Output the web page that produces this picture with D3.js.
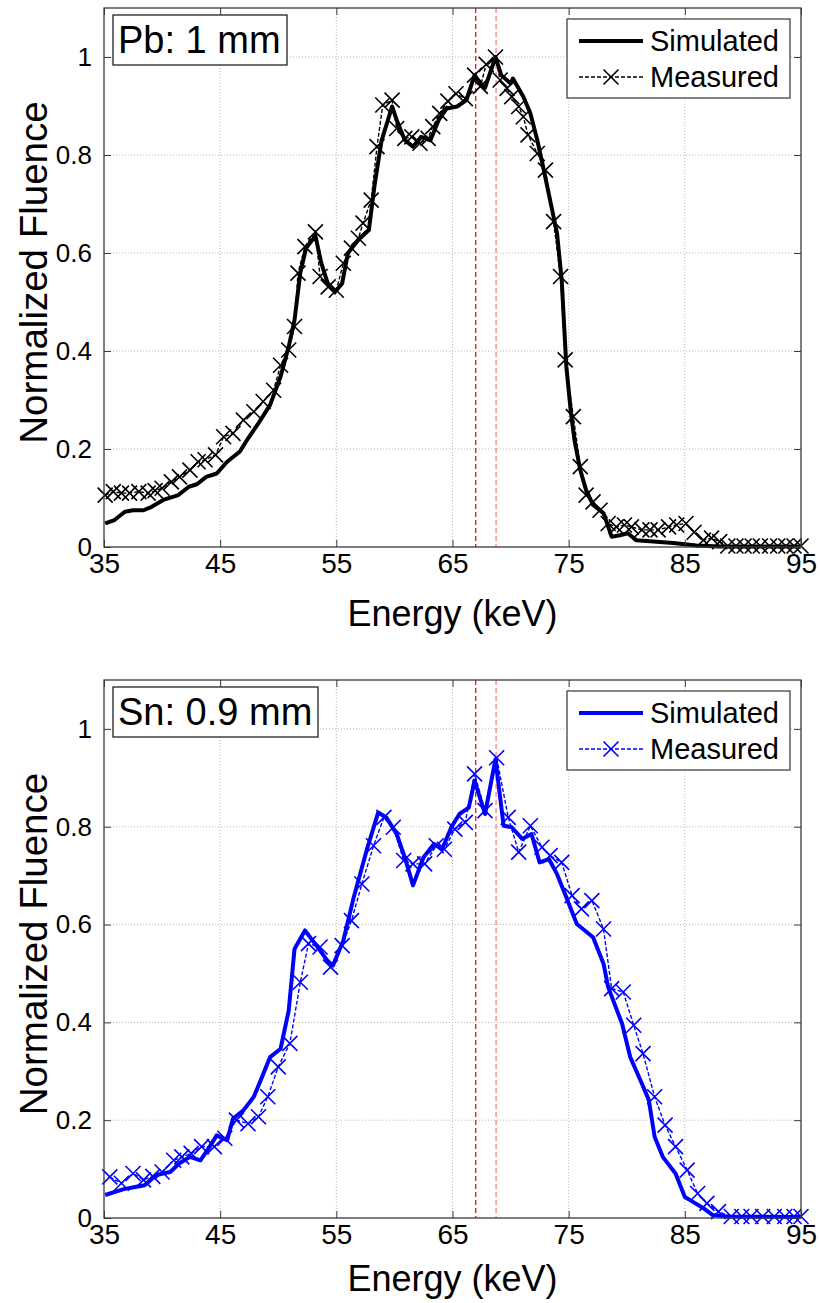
<!DOCTYPE html>
<html>
<head>
<meta charset="utf-8">
<script src="https://cdn.jsdelivr.net/npm/d3@7"></script>
<style>
body { margin: 0; background: #fff; }
svg text { font-family: "Liberation Sans", Arial, Helvetica, sans-serif; fill: #000; }
</style>
</head>
<body>
<div id="chart"></div>
<script>
// x ticks / y ticks
const energyTicks = [35, 45, 55, 65, 75, 85, 95];
const fluenceTicks = [0, 0.2, 0.4, 0.6, 0.8, 1];
const markerLines = [67.0, 68.75];

// Pb: 1 mm, simulated
const pbSimE = [35.1, 35.9, 36.8, 37.5, 38.4, 39.1, 40.1, 41.4, 42.3, 43.0, 43.8, 44.7, 45.6, 46.7, 47.3, 48.2, 49.3, 50.2, 50.9, 51.4, 51.9, 52.4, 53.2, 53.7, 54.3, 54.9, 55.5, 56.0, 56.9, 57.8, 58.3, 58.9, 59.8, 60.2, 60.9, 61.6, 62.3, 63.1, 63.8, 64.5, 65.4, 66.2, 66.9, 67.5, 67.8, 68.7, 69.2, 70.0, 70.2, 71.1, 71.7, 72.3, 72.8, 73.4, 74.0, 74.4, 74.8, 75.2, 75.5, 76.0, 76.5, 77.1, 78.0, 78.7, 79.4, 80.1, 80.8, 82.3, 84.0, 86.0, 88.0, 95.0];
const pbSimV = [0.048, 0.055, 0.072, 0.075, 0.075, 0.082, 0.096, 0.106, 0.123, 0.128, 0.143, 0.15, 0.174, 0.195, 0.218, 0.249, 0.29, 0.348, 0.409, 0.463, 0.56, 0.61, 0.635, 0.58, 0.535, 0.521, 0.538, 0.6, 0.627, 0.647, 0.74, 0.83, 0.899, 0.871, 0.83, 0.817, 0.837, 0.83, 0.871, 0.895, 0.899, 0.912, 0.963, 0.943, 0.937, 1.0, 0.963, 0.946, 0.956, 0.919, 0.885, 0.83, 0.776, 0.708, 0.64, 0.545, 0.368, 0.273, 0.218, 0.157, 0.116, 0.086, 0.069, 0.021, 0.024, 0.028, 0.014, 0.011, 0.008, 0.003, 0.001, 0.001];

// Pb: 1 mm, measured
const pbMeasE = [35.1, 35.8, 36.5, 37.2, 38.0, 38.8, 39.4, 40.0, 40.8, 41.5, 42.4, 43.1, 43.7, 44.6, 45.3, 46.1, 47.0, 47.9, 48.7, 49.6, 50.2, 50.9, 51.4, 51.7, 52.3, 53.2, 53.6, 54.3, 55.0, 55.6, 56.3, 56.9, 57.3, 58.0, 58.5, 59.0, 59.8, 60.2, 60.9, 61.5, 62.2, 62.9, 63.3, 63.9, 64.6, 65.3, 66.1, 66.9, 67.4, 67.9, 68.7, 69.1, 69.7, 70.1, 70.7, 71.1, 71.5, 72.3, 73.0, 73.7, 74.3, 74.7, 75.4, 76.0, 76.5, 77.1, 77.7, 78.4, 79.1, 79.8, 80.4, 81.3, 82.0, 82.7, 83.6, 84.3, 85.1, 85.8, 86.6, 87.3, 88.0, 88.7, 89.4, 90.1, 90.8, 91.5, 92.3, 93.0, 93.7, 94.4, 95.0];
const pbMeasV = [0.106, 0.113, 0.11, 0.11, 0.113, 0.11, 0.115, 0.12, 0.133, 0.143, 0.157, 0.174, 0.178, 0.188, 0.225, 0.232, 0.259, 0.276, 0.297, 0.32, 0.371, 0.402, 0.45, 0.559, 0.613, 0.643, 0.552, 0.531, 0.524, 0.579, 0.61, 0.63, 0.661, 0.708, 0.817, 0.902, 0.912, 0.854, 0.834, 0.837, 0.824, 0.834, 0.858, 0.885, 0.91, 0.925, 0.915, 0.963, 0.94, 0.985, 1.0, 0.953, 0.936, 0.919, 0.899, 0.878, 0.841, 0.803, 0.769, 0.664, 0.552, 0.382, 0.266, 0.164, 0.106, 0.092, 0.075, 0.048, 0.041, 0.045, 0.041, 0.035, 0.035, 0.035, 0.041, 0.045, 0.048, 0.03, 0.014, 0.018, 0.011, 0.002, 0.002, 0.002, 0.002, 0.002, 0.002, 0.002, 0.002, 0.002, 0.002];

// Sn: 0.9 mm, simulated
const snSimE = [35.1, 36.7, 37.8, 38.5, 39.5, 40.7, 41.5, 42.4, 43.3, 44.1, 44.7, 45.6, 46.1, 47.0, 47.9, 48.6, 49.3, 50.2, 50.9, 51.4, 52.3, 53.2, 54.2, 54.7, 55.6, 56.5, 57.6, 58.6, 59.3, 60.2, 60.9, 61.6, 62.5, 63.4, 64.1, 64.9, 65.6, 66.4, 66.9, 67.8, 68.7, 69.4, 70.1, 71.0, 71.8, 72.5, 73.3, 74.0, 74.8, 75.7, 77.1, 78.0, 78.4, 79.6, 80.3, 81.3, 81.9, 82.4, 83.1, 84.2, 85.0, 85.7, 86.6, 87.4, 88.6, 95.0];
const snSimV = [0.047, 0.059, 0.064, 0.067, 0.088, 0.094, 0.112, 0.125, 0.118, 0.146, 0.169, 0.159, 0.203, 0.22, 0.248, 0.288, 0.329, 0.346, 0.424, 0.55, 0.588, 0.56, 0.527, 0.516, 0.567, 0.656, 0.751, 0.829, 0.819, 0.785, 0.737, 0.68, 0.737, 0.765, 0.754, 0.799, 0.826, 0.839, 0.894, 0.826, 0.938, 0.802, 0.799, 0.775, 0.785, 0.727, 0.734, 0.703, 0.656, 0.601, 0.574, 0.52, 0.472, 0.397, 0.329, 0.275, 0.241, 0.166, 0.125, 0.091, 0.043, 0.033, 0.02, 0.006, 0.003, 0.002];

// Sn: 0.9 mm, measured
const snMeasE = [35.5, 36.5, 37.5, 38.4, 39.2, 40.0, 41.0, 41.7, 42.5, 43.4, 44.5, 45.4, 46.4, 47.4, 48.3, 49.1, 50.0, 51.0, 51.9, 52.6, 53.6, 54.5, 55.5, 56.3, 57.2, 58.2, 59.1, 59.9, 60.8, 61.6, 62.6, 63.6, 64.3, 65.2, 66.1, 66.9, 67.8, 68.8, 69.8, 70.7, 71.7, 72.7, 73.4, 74.4, 75.3, 76.1, 77.0, 78.0, 78.7, 79.7, 80.6, 81.4, 82.4, 83.3, 84.2, 85.2, 86.1, 86.9, 87.9, 89.0, 89.9, 90.7, 91.7, 92.7, 93.6, 94.4, 95.0];
const snMeasV = [0.084, 0.071, 0.091, 0.078, 0.085, 0.094, 0.118, 0.125, 0.132, 0.146, 0.146, 0.163, 0.2, 0.193, 0.207, 0.248, 0.309, 0.357, 0.482, 0.561, 0.554, 0.513, 0.557, 0.608, 0.683, 0.761, 0.819, 0.799, 0.731, 0.724, 0.724, 0.761, 0.754, 0.795, 0.809, 0.908, 0.833, 0.941, 0.819, 0.748, 0.802, 0.758, 0.741, 0.727, 0.659, 0.632, 0.649, 0.591, 0.469, 0.462, 0.394, 0.336, 0.248, 0.19, 0.146, 0.098, 0.05, 0.03, 0.013, 0.003, 0.003, 0.003, 0.003, 0.003, 0.003, 0.003, 0.003];

var width = 820;
var height = 1303;
var plotLeft = 104, plotRight = 801;

var svg = d3.select("#chart")
    .append("svg")
    .attr("width", width)
    .attr("height", height);

function zip(es, vs) {
    return es.map((e, i) => ({ e: e, v: vs[i] }));
}

function drawPanel(cfg) {
    var x = d3.scaleLinear().domain([35, 95]).range([plotLeft, plotRight]);
    var y = d3.scaleLinear().domain([0, 1.1]).range([cfg.bottom, cfg.top]);
    var g = svg.append("g");

    // dotted grid
    g.selectAll(".gx")
        .data(energyTicks.slice(1, -1))
        .enter().append("line")
        .attr("x1", d => x(d)).attr("x2", d => x(d))
        .attr("y1", cfg.top).attr("y2", cfg.bottom)
        .attr("stroke", "#b8b8b8").attr("stroke-width", 1)
        .attr("stroke-dasharray", "1,2");
    g.selectAll(".gy")
        .data(fluenceTicks.slice(1))
        .enter().append("line")
        .attr("x1", plotLeft).attr("x2", plotRight)
        .attr("y1", d => y(d)).attr("y2", d => y(d))
        .attr("stroke", "#b8b8b8").attr("stroke-width", 1)
        .attr("stroke-dasharray", "1,2");

    // K-line markers
    g.selectAll(".kline")
        .data(markerLines)
        .enter().append("line")
        .attr("x1", d => x(d)).attr("x2", d => x(d))
        .attr("y1", cfg.top).attr("y2", cfg.bottom)
        .attr("stroke", (d, i) => i == 0 ? "#e00000" : "#f37a7a")
        .attr("stroke-width", 1.2)
        .attr("stroke-dasharray", "5,3");

    var line = d3.line().x(d => x(d.e)).y(d => y(d.v));

    // measured (dashed + x markers)
    var meas = zip(cfg.measE, cfg.measV);
    g.append("path")
        .datum(meas)
        .attr("d", line)
        .attr("fill", "none")
        .attr("stroke", cfg.color)
        .attr("stroke-width", 1.4)
        .attr("stroke-dasharray", "4,2");
    var s = 7.5;
    g.selectAll(".mk")
        .data(meas)
        .enter().append("path")
        .attr("d", d => {
            var cx = x(d.e), cy = y(d.v);
            return "M" + (cx - s) + "," + (cy - s) + "L" + (cx + s) + "," + (cy + s) +
                   "M" + (cx - s) + "," + (cy + s) + "L" + (cx + s) + "," + (cy - s);
        })
        .attr("stroke", cfg.color)
        .attr("stroke-width", 1.6)
        .attr("fill", "none");

    // simulated (thick solid)
    g.append("path")
        .datum(zip(cfg.simE, cfg.simV))
        .attr("d", line)
        .attr("fill", "none")
        .attr("stroke", cfg.color)
        .attr("stroke-width", 4)
        .attr("stroke-linejoin", "round");

    // box
    g.append("rect")
        .attr("x", plotLeft).attr("y", cfg.top)
        .attr("width", plotRight - plotLeft).attr("height", cfg.bottom - cfg.top)
        .attr("fill", "none").attr("stroke", "#3a3a3a").attr("stroke-width", 1.3);

    // axes with inward ticks
    var xAxis = g.append("g")
        .attr("transform", "translate(0," + cfg.bottom + ")")
        .call(d3.axisBottom(x).tickValues(energyTicks).tickSize(-7).tickPadding(10).tickFormat(d3.format("d")));
    xAxis.select(".domain").remove();
    xAxis.selectAll("line").attr("stroke", "#3a3a3a");
    xAxis.selectAll("text").attr("font-size", "28px").attr("dy", "0.72em")
        .attr("y", 6);

    var xTop = g.append("g")
        .attr("transform", "translate(0," + cfg.top + ")")
        .call(d3.axisTop(x).tickValues(energyTicks).tickSize(-7).tickFormat(""));
    xTop.select(".domain").remove();
    xTop.selectAll("line").attr("stroke", "#3a3a3a");

    var yAxis = g.append("g")
        .attr("transform", "translate(" + plotLeft + ",0)")
        .call(d3.axisLeft(y).tickValues(fluenceTicks).tickSize(-7).tickPadding(12).tickFormat(d => d3.format("")(d)));
    yAxis.select(".domain").remove();
    yAxis.selectAll("line").attr("stroke", "#3a3a3a");
    yAxis.selectAll("text").attr("font-size", "26px");

    var yRight = g.append("g")
        .attr("transform", "translate(" + plotRight + ",0)")
        .call(d3.axisRight(y).tickValues(fluenceTicks).tickSize(-7).tickFormat(""));
    yRight.select(".domain").remove();
    yRight.selectAll("line").attr("stroke", "#3a3a3a");

    // axis titles
    g.append("text")
        .attr("x", (plotLeft + plotRight) / 2)
        .attr("y", cfg.bottom + cfg.xlabelDy)
        .attr("text-anchor", "middle")
        .attr("font-size", "36px")
        .text("Energy (keV)");
    g.append("text")
        .attr("transform", "translate(47," + ((cfg.top + cfg.bottom) / 2 - 5) + ") rotate(-90)")
        .attr("text-anchor", "middle")
        .attr("font-size", "38.5px")
        .text("Normalized Fluence");

    // material label
    g.append("rect")
        .attr("x", 113).attr("y", cfg.top + 7)
        .attr("width", cfg.labelW).attr("height", 50)
        .attr("fill", "#fff").attr("stroke", "#222").attr("stroke-width", 1.3);
    g.append("text")
        .attr("x", 118).attr("y", cfg.top + 45)
        .attr("font-size", "38px")
        .text(cfg.label);

    // legend
    var lg = g.append("g").attr("transform", "translate(567," + (cfg.top + 11) + ")");
    lg.append("rect")
        .attr("width", 223).attr("height", 79)
        .attr("fill", "#fff").attr("stroke", "#444").attr("stroke-width", 1.3);
    lg.append("line")
        .attr("x1", 12).attr("x2", 76).attr("y1", 22).attr("y2", 22)
        .attr("stroke", cfg.color).attr("stroke-width", 4);
    lg.append("text").attr("x", 83).attr("y", 32).attr("font-size", "29px").text("Simulated");
    lg.append("line")
        .attr("x1", 12).attr("x2", 76).attr("y1", 58).attr("y2", 58)
        .attr("stroke", cfg.color).attr("stroke-width", 1.4).attr("stroke-dasharray", "4,2");
    lg.append("path")
        .attr("d", "M" + (44 - s) + "," + (58 - s) + "L" + (44 + s) + "," + (58 + s) +
                   "M" + (44 - s) + "," + (58 + s) + "L" + (44 + s) + "," + (58 - s))
        .attr("stroke", cfg.color).attr("stroke-width", 1.6);
    lg.append("text").attr("x", 83).attr("y", 68).attr("font-size", "29px").text("Measured");
}

drawPanel({ top: 8, bottom: 547, color: "#000000", label: "Pb: 1 mm", labelW: 174, xlabelDy: 79,
    simE: pbSimE, simV: pbSimV, measE: pbMeasE, measV: pbMeasV });
drawPanel({ top: 680, bottom: 1218, color: "#0000ff", label: "Sn: 0.9 mm", labelW: 205, xlabelDy: 73,
    simE: snSimE, simV: snSimV, measE: snMeasE, measV: snMeasV });
</script>
</body>
</html>
